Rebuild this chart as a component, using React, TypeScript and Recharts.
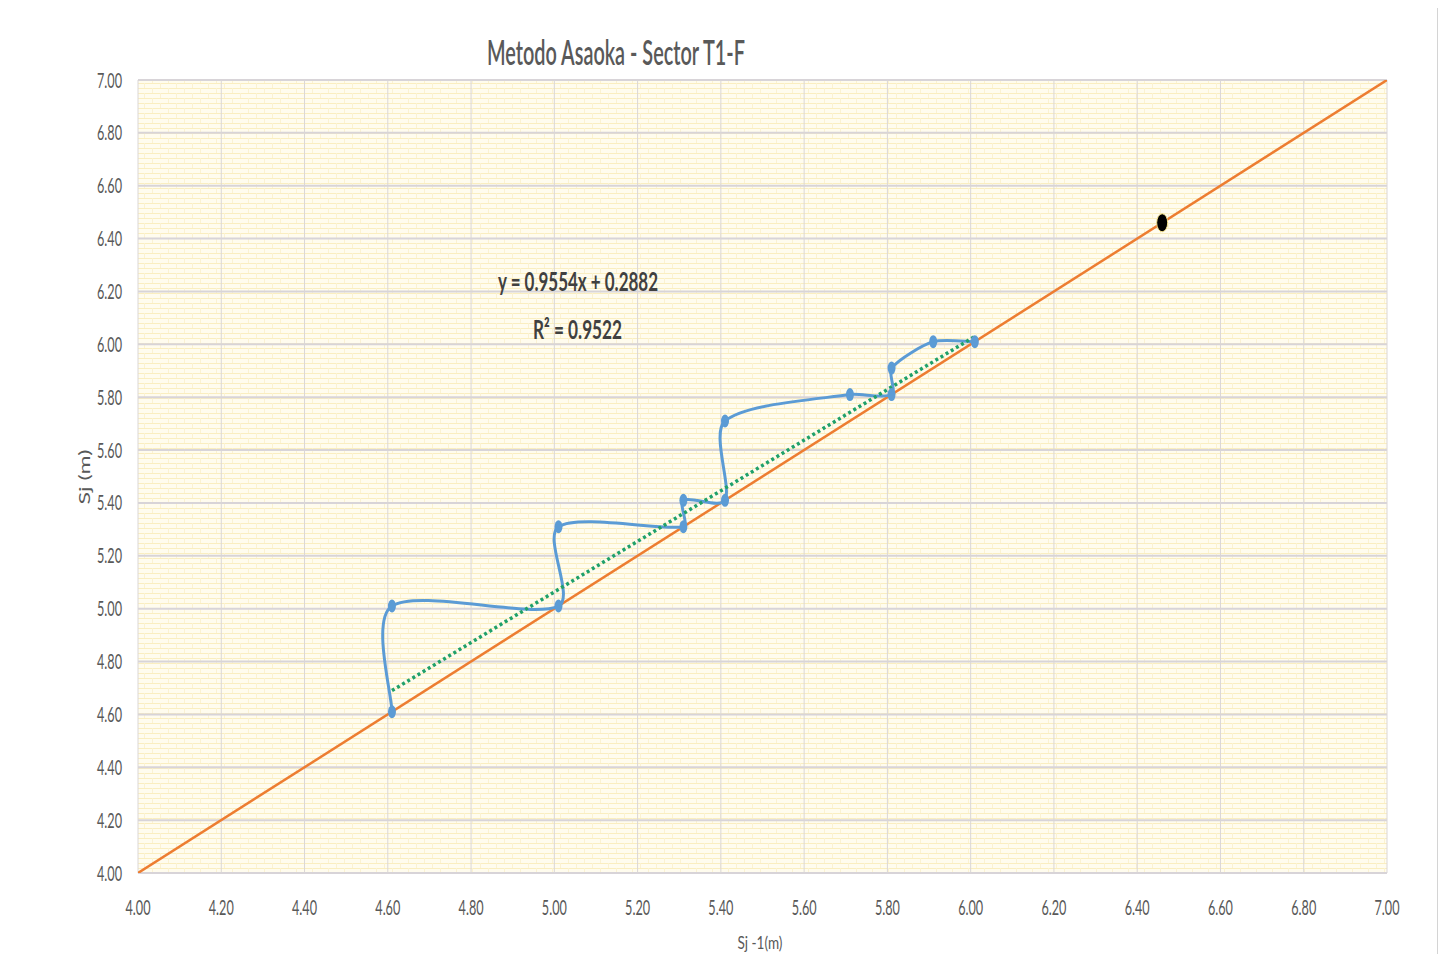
import React from 'react';
import { ComposedChart, Line, XAxis, YAxis, CartesianGrid } from 'recharts';

// Asaoka: Sj-1 vs Sj
const asaokaX = [4.61, 4.61, 5.01, 5.01, 5.31, 5.31, 5.41, 5.41, 5.71, 5.81, 5.81, 5.91, 6.01];
const asaokaY = [4.61, 5.01, 5.01, 5.31, 5.31, 5.41, 5.41, 5.71, 5.81, 5.81, 5.91, 6.01, 6.01];

// linea 45°
const diagX = [4.0, 7.0];
const diagY = [4.0, 7.0];

// linea de tendencia (lineal)
const trendX = [4.61, 6.01];
const trendY = [4.69, 6.03];

// asentamiento final
const finalX = [6.46];
const finalY = [6.46];

const axisTicks = [4.0, 4.2, 4.4, 4.6, 4.8, 5.0, 5.2, 5.4, 5.6, 5.8, 6.0, 6.2, 6.4, 6.6, 6.8, 7.0];

const toRows = (xs: number[], ys: number[]) => xs.map((x, i) => ({ x, y: ys[i] }));

const asaokaData = toRows(asaokaX, asaokaY);
const diagData = toRows(diagX, diagY);
const trendData = toRows(trendX, trendY);
const finalData = toRows(finalX, finalY);

const FONT = 'Lato, "Open Sans", sans-serif';

// curva suavizada tipo Excel (Catmull-Rom, tangente limitada por el largo del tramo)
const smoothCurve = (context: any) => {
  let pts: number[][] = [];
  const ctrl = (from: number[], a: number[], b: number[], segLen: number, sign: number) => {
    const tx = b[0] - a[0];
    const ty = b[1] - a[1];
    const len = Math.hypot(tx, ty);
    if (!len) return from;
    const d = Math.min(len, segLen * 1.4) / 6;
    return [from[0] + (sign * tx * d) / len, from[1] + (sign * ty * d) / len];
  };
  return {
    areaStart() {},
    areaEnd() {},
    lineStart() {
      pts = [];
    },
    point(x: number, y: number) {
      pts.push([+x, +y]);
    },
    lineEnd() {
      if (!pts.length) return;
      context.moveTo(pts[0][0], pts[0][1]);
      for (let i = 0; i < pts.length - 1; i++) {
        const p0 = pts[i - 1] || pts[i];
        const p1 = pts[i];
        const p2 = pts[i + 1];
        const p3 = pts[i + 2] || p2;
        const seg = Math.hypot(p2[0] - p1[0], p2[1] - p1[1]);
        const c1 = ctrl(p1, p0, p2, seg, 1);
        const c2 = ctrl(p2, p1, p3, seg, -1);
        context.bezierCurveTo(c1[0], c1[1], c2[0], c2[1], p2[0], p2[1]);
      }
    },
  };
};

const YTick = (props: any) => {
  const { x, y, payload } = props;
  return (
    <text x={x} y={y + 7.5} textAnchor="end" fontFamily={FONT} fontSize={21} fill="#595959"
      textLength={25} lengthAdjust="spacingAndGlyphs">
      {Number(payload.value).toFixed(2)}
    </text>
  );
};

const XTick = (props: any) => {
  const { x, y, payload } = props;
  return (
    <text x={x} y={y + 42} textAnchor="middle" fontFamily={FONT} fontSize={21} fill="#595959"
      textLength={25} lengthAdjust="spacingAndGlyphs">
      {Number(payload.value).toFixed(2)}
    </text>
  );
};

const blueDot = (p: any) => (
  <ellipse key={`b-${p.index}`} cx={p.cx} cy={p.cy} rx={4} ry={6.5} fill="#5B9BD5" />
);

const blackDot = (p: any) => (
  <ellipse key={`k-${p.index}`} cx={p.cx} cy={p.cy} rx={5.5} ry={9} fill="#000" stroke="#F3E08A" strokeWidth={1} />
);

export default function App() {
  return (
    <div style={{ position: 'relative', width: 1432, height: 946 }}>
      <div style={{ position: 'absolute', left: -2, top: -1, width: 1432, height: 950, border: '1px solid #D4D4D4', boxSizing: 'border-box' }} />
      <ComposedChart width={1432} height={946} margin={{ top: 72, right: 53, bottom: 41, left: 0 }}>
        <defs>
          <pattern id="brick" patternUnits="userSpaceOnUse" width={16} height={10}>
            <rect x={0} y={0} width={16} height={10} fill="#FFFCEE" />
            <line x1={0} y1={0.5} x2={16} y2={0.5} stroke="#FAEEC0" strokeWidth={1} />
            <line x1={0} y1={5.5} x2={16} y2={5.5} stroke="#FAEEC0" strokeWidth={1} />
            <line x1={0.5} y1={0} x2={0.5} y2={5} stroke="#FBF2D2" strokeWidth={1} />
            <line x1={8.5} y1={5} x2={8.5} y2={10} stroke="#FBF2D2" strokeWidth={1} />
          </pattern>
        </defs>
        <CartesianGrid vertical={false} stroke="#D8D4D8" strokeWidth={2} fill="url(#brick)" fillOpacity={1} />
        <CartesianGrid horizontal={false} stroke="#DAD6D6" strokeWidth={1} />
        <XAxis type="number" dataKey="x" domain={[4, 7]} ticks={axisTicks} allowDataOverflow
          axisLine={false} tickLine={false} tickSize={0} tickMargin={0} height={40} tick={<XTick />} />
        <YAxis type="number" dataKey="y" domain={[4, 7]} ticks={axisTicks} allowDataOverflow
          axisLine={false} tickLine={false} tickSize={0} tickMargin={16} width={130} tick={<YTick />} />
        <Line data={diagData} dataKey="y" type="linear" stroke="#ED7D31" strokeWidth={2.5} dot={false}
          activeDot={false} isAnimationActive={false} />
        <Line data={asaokaData} dataKey="y" type={smoothCurve as any} stroke="#5B9BD5" strokeWidth={3}
          dot={blueDot} activeDot={false} isAnimationActive={false} />
        <Line data={trendData} dataKey="y" type="linear" stroke="#1FA06A" strokeWidth={3.5} strokeDasharray="3 3"
          dot={false} activeDot={false} isAnimationActive={false} />
        <Line data={finalData} dataKey="y" stroke="none" dot={blackDot} activeDot={false} isAnimationActive={false} />
      </ComposedChart>
      <svg width={1432} height={946} style={{ position: 'absolute', left: 0, top: 0, pointerEvents: 'none' }}>
        <text x={608} y={57} textAnchor="middle" fontFamily={FONT} fontSize={34} fontWeight={600} fill="#595959"
          textLength={258} lengthAdjust="spacingAndGlyphs">
          Metodo Asaoka - Sector T1-F
        </text>
        <text x={570} y={283} textAnchor="middle" fontFamily={FONT} fontSize={26} fontWeight={700} fill="#404040"
          textLength={160} lengthAdjust="spacingAndGlyphs">
          y = 0.9554x + 0.2882
        </text>
        <text x={525} y={331} fontFamily={FONT} fontSize={26} fontWeight={700} fill="#404040"
          textLength={89} lengthAdjust="spacingAndGlyphs">
          R² = 0.9522
        </text>
        <text x={752} y={941} textAnchor="middle" fontFamily={FONT} fontSize={18} fill="#595959"
          textLength={45} lengthAdjust="spacingAndGlyphs">
          Sj -1(m)
        </text>
        <text transform="translate(82,469) rotate(-90)" textAnchor="middle" fontFamily={FONT} fontSize={16} fill="#595959"
          textLength={55} lengthAdjust="spacingAndGlyphs">
          Sj (m)
        </text>
      </svg>
    </div>
  );
}
